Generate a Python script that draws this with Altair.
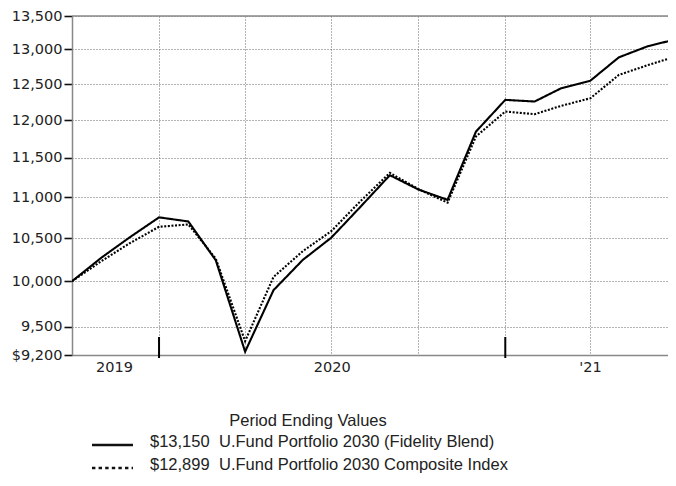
import altair as alt
import pandas as pd

# ---------------- data ----------------
dates = ["2019-09-30", "2019-10-31", "2019-11-30", "2019-12-31", "2020-01-31", "2020-02-29",
         "2020-03-31", "2020-04-30", "2020-05-31", "2020-06-30", "2020-07-31", "2020-08-31",
         "2020-09-30", "2020-10-31", "2020-11-30", "2020-12-31", "2021-01-31", "2021-02-28",
         "2021-03-31", "2021-04-30", "2021-05-31", "2021-06-30"]
fund = [10000, 10270, 10510, 10750, 10700, 10240, 9235, 9900, 10245, 10505, 10880, 11275,
        11095, 10965, 11845, 12278, 12255, 12440, 12548, 12883, 13048, 13150]
index = [10000, 10230, 10440, 10636, 10664, 10259, 9345, 10049, 10347, 10583, 10950, 11305,
         11100, 10930, 11780, 12117, 12081, 12195, 12301, 12629, 12772, 12899]
series_names = ["U.Fund Portfolio 2030 (Fidelity Blend)", "U.Fund Portfolio 2030 Composite Index"]
ending_values = ["$13,150", "$12,899"]
y_ticks = [9200, 9500, 10000, 10500, 11000, 11500, 12000, 12500, 13000, 13500]
grid_dates = ["2019-12-31", "2020-03-31", "2020-06-30", "2020-09-30", "2020-12-31", "2021-03-31"]
year_marks = ["2019-12-31", "2020-12-31"]
year_labels = ["2019", "2020", "'21"]
year_label_dates = ["2019-11-14", "2020-07-01", "2021-03-31"]
legend_title = "Period Ending Values"
# visible window of the time axis (the last days run off the right edge, as in the original)
view_end = "2021-06-21"

W, H = 596, 339


def local(d):
    return d + "T00:00:00"


def dt(d):
    y, m, dd = (int(p) for p in d.split("-"))
    return alt.DateTime(year=y, month=m, date=dd)


df = pd.DataFrame({
    "date": [local(d) for d in dates] * 2,
    "value": fund + index,
    "series": [series_names[0]] * len(dates) + [series_names[1]] * len(dates),
})

x_scale = alt.Scale(domain=[dt(dates[0]), dt(view_end)], nice=False)
y_scale = alt.Scale(type="log", domain=[y_ticks[0], y_ticks[-1]], nice=False)
dash_scale = alt.Scale(domain=series_names, range=[[1, 0], [2, 1.6]])

lines = alt.Chart(df).mark_line(color="#000", strokeWidth=2.1, clip=True).encode(
    x=alt.X("date:T", scale=x_scale,
            axis=alt.Axis(values=[dt(d) for d in grid_dates], labels=False, ticks=False,
                          grid=True, title=None)),
    y=alt.Y("value:Q", scale=y_scale,
            axis=alt.Axis(values=y_ticks, grid=True, title=None, tickSize=8,
                          tickColor="#111", tickWidth=1.6, labelPadding=2,
                          labelExpr="datum.value == 9200 ? '$9,200' : format(datum.value, ',')")),
    strokeDash=alt.StrokeDash("series:N", scale=dash_scale, legend=None),
    detail="series:N",
)

top_rule = alt.Chart(pd.DataFrame({"v": [y_ticks[-1]]})).mark_rule(
    color="#888", strokeWidth=1.5).encode(y=alt.Y("v:Q", scale=y_scale))

year_ticks = alt.Chart(pd.DataFrame({"date": [local(d) for d in year_marks]})).mark_rule(
    color="#000", strokeWidth=2).encode(
    x=alt.X("date:T", scale=x_scale), y=alt.value(H - 18), y2=alt.value(H + 3))

year_text = alt.Chart(pd.DataFrame({"date": [local(d) for d in year_label_dates],
                                    "label": year_labels})).mark_text(
    font="DejaVu Sans", fontSize=14.5, color="#222", baseline="middle", align="center").encode(
    x=alt.X("date:T", scale=x_scale), y=alt.value(H + 13), text="label:N")

leg = pd.DataFrame({"series": series_names, "amount": ending_values, "row": [0, 1]})

LEG_FS = 16.5
title_text = alt.Chart(pd.DataFrame({"t": [legend_title]})).mark_text(
    font="Liberation Sans", fontSize=LEG_FS, color="#222", align="center", baseline="alphabetic").encode(
    x=alt.value(236), y=alt.value(410), text="t:N")

legend_layers = [title_text]
row_base = [431, 454]
dashes = [[1, 0], [3.4, 3.2]]
for r in range(2):
    sub = leg[leg["row"] == r]
    legend_layers.append(alt.Chart(sub).mark_rule(color="#111", strokeWidth=2.6,
                                                  strokeDash=dashes[r]).encode(
        x=alt.value(20), x2=alt.value(61), y=alt.value(row_base[r] - 2)))
    legend_layers.append(alt.Chart(sub).mark_text(
        font="Liberation Sans", fontSize=LEG_FS, color="#222", align="left", baseline="alphabetic").encode(
        x=alt.value(78), y=alt.value(row_base[r]), text="amount:N"))
    legend_layers.append(alt.Chart(sub).mark_text(
        font="Liberation Sans", fontSize=LEG_FS, color="#222", align="left", baseline="alphabetic").encode(
        x=alt.value(147), y=alt.value(row_base[r]), text="series:N"))

chart = alt.layer(lines, top_rule, year_ticks, year_text, *legend_layers).properties(
    width=W, height=H,
    autosize=alt.AutoSizeParams(type="none"),
    padding={"left": 64, "top": 8, "right": 0, "bottom": 120},
).configure_view(stroke=None).configure_axis(
    gridDash=[1, 2], gridColor="#666", gridWidth=1, domainColor="#888", domainWidth=1.5,
    labelFont="DejaVu Sans", labelFontSize=14.5, labelColor="#222",
)

chart.save("out.html", embed_options={"renderer": "svg", "actions": False})
